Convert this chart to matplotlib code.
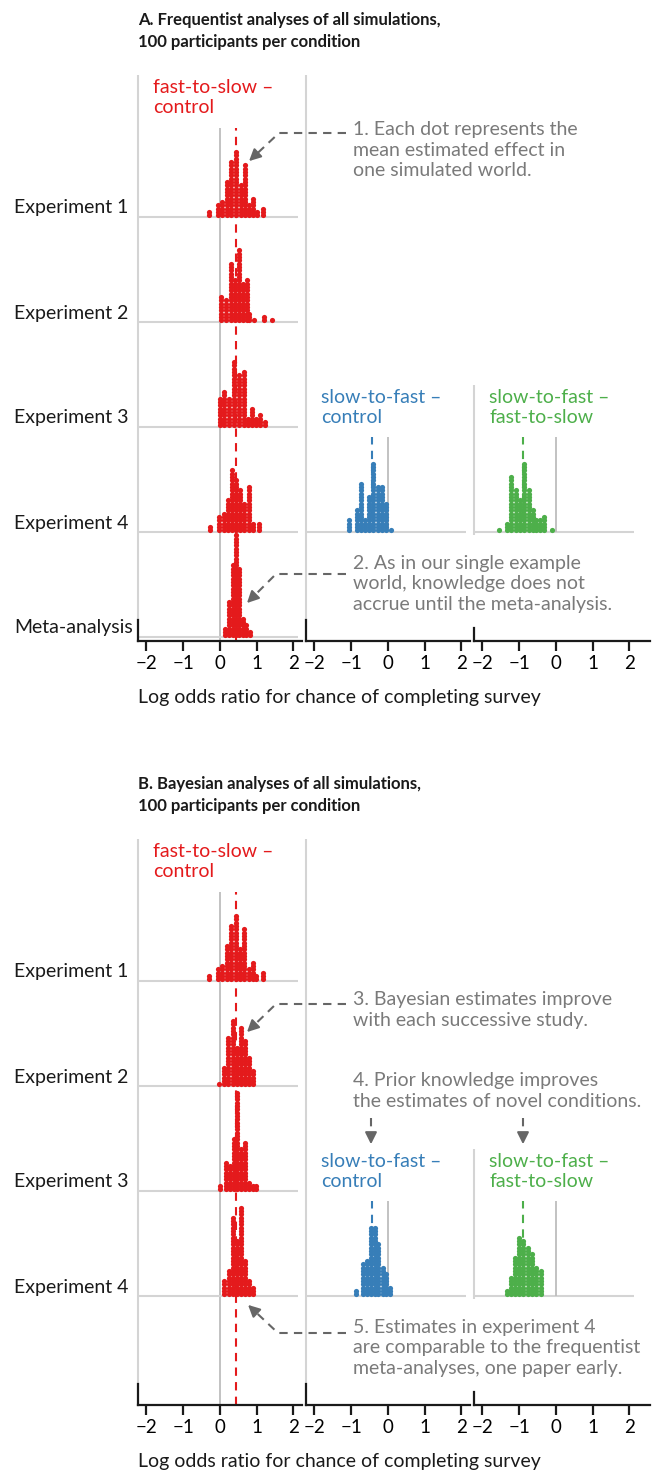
import numpy as np
import matplotlib
matplotlib.use("Agg")
import matplotlib.pyplot as plt

plt.rcParams['font.family'] = ['Lato', 'DejaVu Sans']

# ---- data: column positions (log odds) and dot counts per column ----
conditions = ["fast-to-slow \u2013\ncontrol", "slow-to-fast \u2013\ncontrol", "slow-to-fast \u2013\nfast-to-slow"]
cond_colors = ['#e41a1c', '#377eb8', '#4daf4a']
true_effects = [0.45, -0.44, -0.91]

rows_freq = ["Experiment 1", "Experiment 2", "Experiment 3", "Experiment 4", "Meta-analysis"]
rows_bayes = ["Experiment 1", "Experiment 2", "Experiment 3", "Experiment 4"]

# A. frequentist
freq_e1_x = [-0.29, -0.06, 0.06, 0.19, 0.30, 0.44, 0.58, 0.69, 0.80, 0.91, 1.01, 1.18]
freq_e1_n = [2, 4, 5, 11, 17, 20, 10, 16, 4, 6, 2, 3]
freq_e2_x = [0.03, 0.17, 0.29, 0.41, 0.53, 0.64, 0.74, 0.80, 0.94, 1.21, 1.42]
freq_e2_n = [8, 7, 18, 13, 22, 12, 13, 3, 1, 2, 1]
freq_e3_x = [-0.01, 0.12, 0.24, 0.37, 0.53, 0.66, 0.77, 0.88, 0.98, 1.09, 1.22]
freq_e3_n = [9, 11, 9, 20, 16, 17, 3, 6, 3, 4, 2]
freq_e4_x = [-0.26, -0.03, 0.10, 0.21, 0.33, 0.44, 0.55, 0.66, 0.78, 0.89, 1.07]
freq_e4_n = [2, 5, 6, 10, 19, 16, 13, 9, 14, 3, 3]
freq_meta_x = [0.15, 0.25, 0.35, 0.44, 0.53, 0.62, 0.72, 0.82]
freq_meta_n = [3, 11, 22, 31, 21, 6, 4, 2]
freq_sf_c_x = [-1.07, -0.85, -0.74, -0.63, -0.52, -0.40, -0.28, -0.16, -0.04, 0.07]
freq_sf_c_n = [4, 7, 15, 4, 11, 21, 14, 14, 9, 1]
freq_sf_fs_x = [-1.54, -1.33, -1.21, -1.10, -0.98, -0.86, -0.74, -0.63, -0.53, -0.44, -0.32, -0.11]
freq_sf_fs_n = [1, 3, 17, 13, 10, 21, 13, 7, 4, 4, 5, 1]

# B. bayesian
bayes_e1_x = [-0.29, -0.06, 0.06, 0.19, 0.30, 0.44, 0.55, 0.66, 0.78, 0.91, 0.98, 1.18]
bayes_e1_n = [2, 4, 5, 11, 17, 20, 10, 16, 4, 6, 2, 3]
bayes_e2_x = [-0.03, 0.12, 0.23, 0.35, 0.46, 0.58, 0.67, 0.78, 0.89]
bayes_e2_n = [1, 6, 15, 20, 12, 18, 14, 9, 5]
bayes_e3_x = [0.00, 0.17, 0.26, 0.37, 0.46, 0.58, 0.67, 0.78, 0.91, 0.98]
bayes_e3_n = [2, 9, 8, 16, 30, 13, 15, 3, 2, 2]
bayes_e4_x = [0.12, 0.24, 0.35, 0.46, 0.58, 0.67, 0.78, 0.91]
bayes_e4_n = [5, 8, 24, 17, 27, 11, 5, 3]
bayes_sf_c_x = [-0.87, -0.69, -0.58, -0.46, -0.35, -0.26, -0.14, -0.04, 0.05]
bayes_sf_c_n = [2, 10, 11, 21, 21, 16, 9, 7, 3]
bayes_sf_fs_x = [-1.33, -1.23, -1.12, -1.00, -0.89, -0.77, -0.65, -0.54, -0.42]
bayes_sf_fs_n = [2, 6, 12, 18, 17, 15, 13, 9, 8]

ticks = [-2, -1, 0, 1, 2]
xlabel = "Log odds ratio for chance of completing survey"

panels = [
    {"title": "A. Frequentist analyses of all simulations,\n100 participants per condition",
     "rows": rows_freq,
     "col1": [(freq_e1_x, freq_e1_n), (freq_e2_x, freq_e2_n), (freq_e3_x, freq_e3_n),
              (freq_e4_x, freq_e4_n), (freq_meta_x, freq_meta_n)],
     "col2": (freq_sf_c_x, freq_sf_c_n),
     "col3": (freq_sf_fs_x, freq_sf_fs_n)},
    {"title": "B. Bayesian analyses of all simulations,\n100 participants per condition",
     "rows": rows_bayes,
     "col1": [(bayes_e1_x, bayes_e1_n), (bayes_e2_x, bayes_e2_n), (bayes_e3_x, bayes_e3_n),
              (bayes_e4_x, bayes_e4_n)],
     "col2": (bayes_sf_c_x, bayes_sf_c_n),
     "col3": (bayes_sf_fs_x, bayes_sf_fs_n)},
]

# ---- layout (pixels) ----
W, H = 654, 1472
OFFSETS = [0, 764]
AX_TOP, AX_BOT = 75, 641
BASE0, ROW_STEP = 217, 105
COL_LEFT, COL_STEP, COL_W = 138, 168, 164
UNIT = 36.75
XMIN = -2.23
DOT = 3.33
GRID = '#d4d4d4'
TXT_GRAY = '#7a7a7a'
ARROW = '#666666'
FS = 14

fig = plt.figure(figsize=(W / 100, H / 100), dpi=100)


def px_axes(left, top, width, height):
    return fig.add_axes([left / W, 1 - (top + height) / H, width / W, height / H])


def draw_dots(ax, xs, ns, base, color):
    for x, n in zip(xs, ns):
        ys = base + (np.arange(n) + 0.5) * DOT
        ax.scatter(np.full(n, x), ys, s=14, color=color, linewidths=0, zorder=3)


ov = fig.add_axes([0, 0, 1, 1], zorder=10)
ov.set_xlim(0, W)
ov.set_ylim(H, 0)
ov.axis('off')

for p, off in zip(panels, OFFSETS):
    h = AX_BOT - AX_TOP
    nrows = len(p["rows"])
    bases = [AX_BOT - (BASE0 + r * ROW_STEP) for r in range(5)]
    for c in range(3):
        width = COL_W + (12 if c == 2 else 0)
        ax = px_axes(COL_LEFT + c * COL_STEP, AX_TOP + off, width, h)
        ax.set_xlim(XMIN, XMIN + width / UNIT)
        ax.set_ylim(0, h)
        ax.set_facecolor('none')
        for s in ['top', 'right']:
            ax.spines[s].set_visible(False)
        ax.spines['bottom'].set_linewidth(1.6)
        ax.spines['bottom'].set_color('#1a1a1a')
        ax.spines['left'].set_linewidth(1.6)
        ax.spines['left'].set_color('#1a1a1a')
        ax.spines['left'].set_bounds(0, 13 if c == 2 else 21)
        ax.set_yticks([])
        ax.set_xticks(ticks)
        ax.set_xticklabels([str(t).replace('-', '\u2212') for t in ticks])
        ax.tick_params(axis='x', length=7, width=1.6, color='#1a1a1a', labelsize=13.5, pad=3)
        color = cond_colors[c]
        if c == 0:
            ax.vlines(XMIN, 21, h, color=GRID, lw=1.5, clip_on=False, zorder=1)
            top_line = h - (128 - AX_TOP)
            ax.vlines(0, 0, top_line, color='#bdbdbd', lw=1.3, zorder=1)
            ax.vlines(true_effects[0], 0, top_line, color=color, lw=1.5,
                      linestyles=(0, (4, 3)), zorder=2)
            for r in range(nrows):
                ax.hlines(bases[r], XMIN, XMIN + COL_W / UNIT - 0.1, color=GRID, lw=1.5, zorder=1)
                xs, ns = p["col1"][r]
                draw_dots(ax, xs, ns, bases[r], color)
            ax.text(XMIN + 15 / UNIT, h - (97.5 - AX_TOP), conditions[0], color=color,
                    fontsize=FS, va='center', ha='left', linespacing=1.2)
        else:
            r = 3
            if c == 1:
                ax.vlines(XMIN, 21, h, color=GRID, lw=1.5, clip_on=False, zorder=1)
            else:
                ax.vlines(XMIN, bases[r] - 3, bases[r] + 147, color=GRID, lw=1.5,
                          clip_on=False, zorder=1)
            ax.hlines(bases[r], XMIN, XMIN + COL_W / UNIT - 0.1, color=GRID, lw=1.5, zorder=1)
            ax.vlines(0, bases[r], bases[r] + 95, color='#bdbdbd', lw=1.3, zorder=1)
            ax.vlines(true_effects[c], bases[r], bases[r] + 95, color=color, lw=1.5,
                      linestyles=(0, (4, 3)), zorder=2)
            xs, ns = p["col%d" % (c + 1)]
            draw_dots(ax, xs, ns, bases[r], color)
            ax.text(XMIN + 15 / UNIT, h - (407.5 - AX_TOP), conditions[c], color=color,
                    fontsize=FS, va='center', ha='left', linespacing=1.2)

    # panel title, row labels, x label
    ov.text(138, 31 + off, p["title"], fontsize=12, fontweight='bold', color='#1a1a1a',
            va='center', ha='left', linespacing=1.45)
    for r, lab in enumerate(p["rows"]):
        ov.text(14, BASE0 + r * ROW_STEP - 9 + off, lab, fontsize=FS, color='#1a1a1a',
                va='center', ha='left')
    ov.text(138, 697 + off, xlabel, fontsize=FS, color='#1a1a1a', va='center', ha='left')


def elbow_arrow(x0, y0, xc, yc, xt, yt):
    ov.plot([x0, xc, xt + (xc - xt) * 0.25], [y0, yc, yt + (yc - yt) * 0.25],
            color=ARROW, lw=1.5, ls=(0, (4, 3)))
    ov.annotate('', xy=(xt, yt), xytext=(xt + (xc - xt) * 0.3, yt + (yc - yt) * 0.3),
                arrowprops=dict(arrowstyle='-|>,head_length=0.7,head_width=0.35',
                                color=ARROW, lw=1.5))


notes = [
    (353, 150, "1. Each dot represents the\nmean estimated effect in\none simulated world."),
    (353, 584, "2. As in our single example\nworld, knowledge does not\naccrue until the meta-analysis."),
    (353, 1010, "3. Bayesian estimates improve\nwith each successive study."),
    (353, 1091, "4. Prior knowledge improves\nthe estimates of novel conditions."),
    (353, 1348, "5. Estimates in experiment 4\nare comparable to the frequentist\nmeta-analyses, one paper early."),
]
for x, y, t in notes:
    ov.text(x, y, t, fontsize=FS, color=TXT_GRAY, va='center', ha='left', linespacing=1.22)

elbow_arrow(346, 133, 279, 133, 247, 163)
elbow_arrow(346, 574, 276, 574, 245, 605)
elbow_arrow(346, 1004, 276, 1004, 245, 1034)
elbow_arrow(346, 1333, 278, 1333, 246, 1303)
for xa in [371, 523]:
    ov.plot([xa, xa], [1118, 1136], color=ARROW, lw=1.5, ls=(0, (4, 3)))
    ov.annotate('', xy=(xa, 1147), xytext=(xa, 1134),
                arrowprops=dict(arrowstyle='-|>,head_length=0.7,head_width=0.35',
                                color=ARROW, lw=1.5))

fig.savefig("out.png", dpi=100)
